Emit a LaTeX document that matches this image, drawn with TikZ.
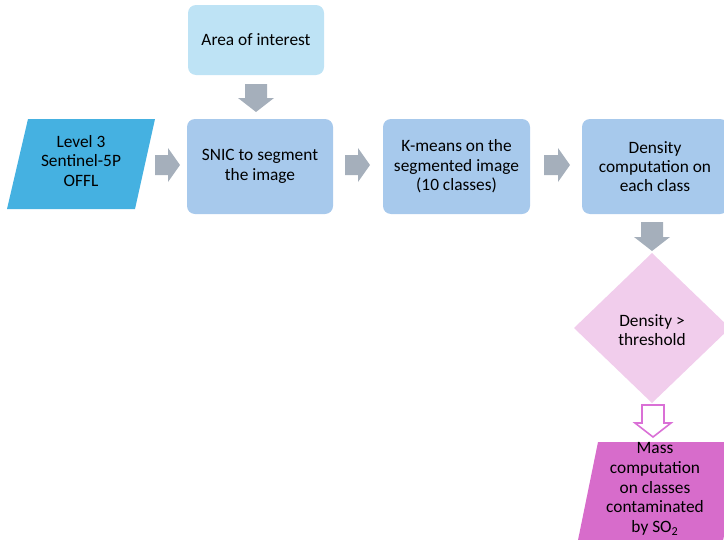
\documentclass[tikz,border=0pt]{standalone}
\usepackage{fontspec}
\setmainfont{Carlito}
\definecolor{areac}{HTML}{BEE3F5}
\definecolor{boxc}{HTML}{A7C9EC}
\definecolor{inc}{HTML}{45B1E1}
\definecolor{arrc}{HTML}{A5AFBB}
\definecolor{diac}{HTML}{F1CDEC}
\definecolor{massc}{HTML}{D76CCB}
\definecolor{hollc}{HTML}{DA70D6}
\newcommand{\myrarrow}[3]{% x0, cy, length
  \fill[arrc] (#1,#2-10) -- (#1+#3-12,#2-10) -- (#1+#3-12,#2-17) -- (#1+#3,#2) -- (#1+#3-12,#2+17) -- (#1+#3-12,#2+10) -- (#1,#2+10) -- cycle;}
\newcommand{\mydarrow}[4]{% cx, y0, length, style
  \path[#4] (#1-11,#2) -- (#1+11,#2) -- (#1+11,#2+#3-14) -- (#1+18,#2+#3-14) -- (#1,#2+#3) -- (#1-18,#2+#3-14) -- (#1-11,#2+#3-14) -- cycle;}
\begin{document}
\begin{tikzpicture}[x=0.75pt,y=-0.75pt,
  font=\fontsize{13}{14.5}\selectfont,
  boxst/.style={rounded corners=6pt, align=center, inner sep=0pt, minimum height=71.25pt},
  txt/.style={align=center, inner sep=0pt}]
\useasboundingbox (0,0) rectangle (724,539);
\clip (0,0) rectangle (724,539);
% boxes
\node[boxst, fill=areac, minimum width=102pt, minimum height=52.5pt] (area) at (256,40) {Area of interest};
\node[boxst, fill=boxc, minimum width=109.5pt] (snic) at (260,166.5) {SNIC to segment\\the image};
\node[boxst, fill=boxc, minimum width=110.25pt] (kmeans) at (456.5,166.5) {K-means on the\\segmented image\\(10 classes)};
\node[boxst, fill=boxc, minimum width=109.5pt] (dens) at (655,166.5) {Density\\computation on\\each class};
% input parallelogram
\fill[inc] (28,119) -- (155,119) -- (135,209) -- (7,209) -- cycle;
\node[txt] (input) at (81,161) {Level 3\\Sentinel-5P\\OFFL};
% diamond
\fill[diac] (652,253) -- (730,328) -- (652,403) -- (574,328) -- cycle;
\node[txt] (dia) at (652,330) {Density >\\threshold};
% output parallelogram
\fill[massc] (598,442) -- (745,442) -- (722,545) -- (577,545) -- cycle;
\node[txt, font=\fontsize{13}{14.8}\selectfont] (mass) at (655,489) {Mass\\computation\\on classes\\contaminated\\by SO\textsubscript{2}};
% block arrows
\mydarrow{256}{84}{28}{fill=arrc}
\myrarrow{155}{165}{25}
\myrarrow{345}{165}{25}
\myrarrow{544}{165}{26}
\mydarrow{652}{222}{29}{fill=arrc}
\mydarrow{653}{405}{32}{draw=hollc, line width=1.2pt, fill=white}
\end{tikzpicture}
\end{document}
